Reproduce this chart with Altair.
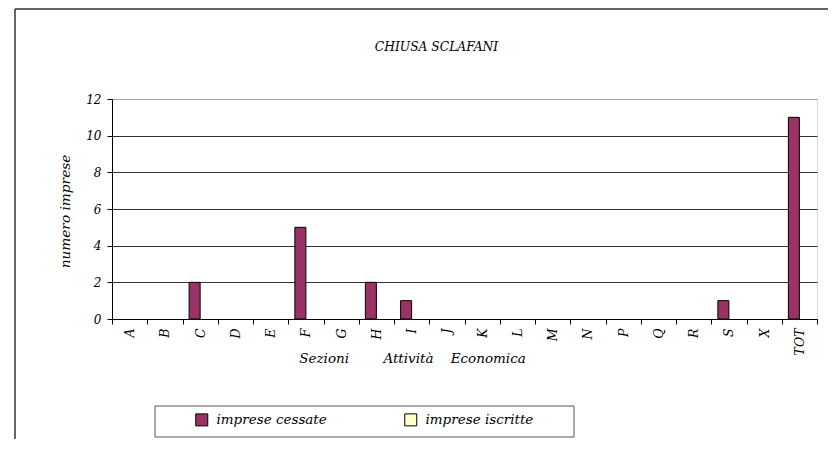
import altair as alt
import pandas as pd

sezioni = ["A", "B", "C", "D", "E", "F", "G", "H", "I", "J",
           "K", "L", "M", "N", "P", "Q", "R", "S", "X", "TOT"]
cessate = [0, 0, 2, 0, 0, 5, 0, 2, 1, 0, 0, 0, 0, 0, 0, 0, 0, 1, 0, 11]
iscritte = [0, 0, 0, 0, 0, 0, 0, 0, 0, 0, 0, 0, 0, 0, 0, 0, 0, 0, 0, 0]
serie = ["imprese cessate", "imprese iscritte"]
colori = ["#993366", "#FFFFCC"]

rows = []
for s, c, i in zip(sezioni, cessate, iscritte):
    rows.append({"Sezione": s, "Serie": serie[0], "valore": c})
    rows.append({"Sezione": s, "Serie": serie[1], "valore": i})
df = pd.DataFrame(rows)

FONT = "DejaVu Serif"
NB = "\u00a0"
xtitle = "Sezioni" + NB * 8 + "Attività" + NB * 4 + "Economica"

bars = alt.Chart(df).transform_filter("datum.valore > 0").mark_bar(
    stroke="black", strokeWidth=1
).encode(
    x=alt.X("Sezione:N", sort=sezioni,
            scale=alt.Scale(domain=sezioni, paddingInner=0, paddingOuter=0),
            axis=alt.Axis(title=xtitle, labelAngle=270, tickBand="extent",
                          labelFont=FONT, labelFontStyle="italic", labelFontSize=12.5,
                          labelColor="black", labelPadding=4,
                          domainColor="black", tickColor="black", tickSize=5,
                          titleFont=FONT, titleFontStyle="italic", titleFontSize=13.5,
                          titleFontWeight="normal", titleColor="black",
                          titleX=300, titleY=39, titleBaseline="middle",
                          titleAlign="center")),
    xOffset=alt.XOffset("Serie:N", sort=serie,
                        scale=alt.Scale(domain=serie, paddingInner=0, paddingOuter=0.6)),
    y=alt.Y("valore:Q", scale=alt.Scale(domain=[0, 12]),
            axis=alt.Axis(title="numero imprese", values=[0, 2, 4, 6, 8, 10, 12],
                          labelFont=FONT, labelFontStyle="italic", labelFontSize=12,
                          labelColor="black", labelPadding=6,
                          domainColor="black", tickColor="black", tickSize=5,
                          grid=True,
                          gridColor={"condition": {"test": "datum.value === 12", "value": "#a0a0a0"},
                                     "value": "#333333"},
                          titleFont=FONT, titleFontStyle="italic", titleFontSize=13.7,
                          titleFontWeight="normal", titleColor="black",
                          titleX=-47, titleY=112, titleBaseline="middle",
                          titleAlign="center")),
    color=alt.Color("Serie:N", sort=serie,
                    scale=alt.Scale(domain=serie, range=colori),
                    legend=alt.Legend(title=None, orient="none", direction="horizontal",
                                      columns=2, legendX=83, legendY=314, padding=0,
                                      symbolType="square", symbolSize=144,
                                      symbolStrokeColor="black", symbolStrokeWidth=1,
                                      symbolOpacity=1,
                                      labelFont=FONT, labelFontStyle="italic",
                                      labelFontSize=13.5, labelColor="black",
                                      labelOffset=8, columnPadding=75,
                                      labelLimit=300)),
)

one = pd.DataFrame({"k": [0]})
frame_top = alt.Chart(one).mark_rule(stroke="#333333", strokeWidth=1.5).encode(
    x=alt.value(-97), x2=alt.value(716), y=alt.value(-90)
)
frame_left = alt.Chart(one).mark_rule(stroke="#333333", strokeWidth=1.5).encode(
    x=alt.value(-97), y=alt.value(-90), y2=alt.value(340)
)
legend_box = alt.Chart(one).mark_rect(fillOpacity=0, stroke="#555555", strokeWidth=1).encode(
    x=alt.value(43), x2=alt.value(462), y=alt.value(307), y2=alt.value(338)
)

chart = alt.layer(frame_top, frame_left, legend_box, bars).properties(
    width=705, height=220,
    autosize=alt.AutoSizeParams(type="none"),
    padding={"left": 104, "top": 91, "right": 11, "bottom": 120},
    title=alt.TitleParams("CHIUSA SCLAFANI", font=FONT, fontStyle="italic",
                          fontSize=12.3, fontWeight="normal", color="black",
                          anchor="middle", dx=-28, offset=0, dy=51, baseline="middle"),
).configure_view(stroke="#a0a0a0", strokeWidth=1).configure(background="white")

chart.save("out.html", embed_options={"renderer": "svg", "actions": False})
